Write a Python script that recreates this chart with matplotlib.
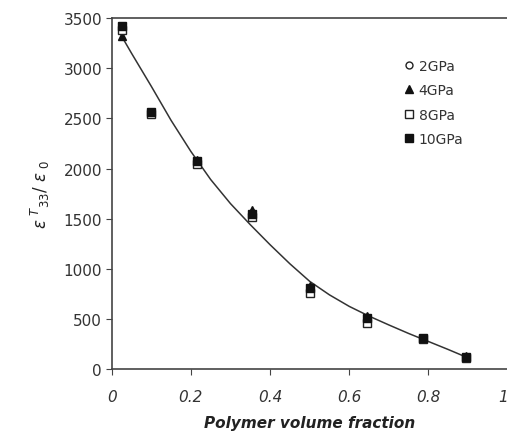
import matplotlib
matplotlib.use('Agg')
import matplotlib.pyplot as plt

# polymer volume fraction of the measured samples
frac = [0.025, 0.1, 0.215, 0.355, 0.5, 0.645, 0.785, 0.895]
eps_2gpa = [3400, 2560, 2070, 1560, 800, 500, 300, 120]
eps_4gpa = [3320, 2550, 2080, 1590, 830, 530, 310, 130]
eps_8gpa = [3380, 2540, 2050, 1520, 760, 460, 295, 110]
eps_10gpa = [3420, 2560, 2070, 1550, 810, 510, 305, 120]

# fitted curve
fit_x = [0.025, 0.05, 0.1, 0.15, 0.2, 0.25, 0.3, 0.35, 0.4, 0.45,
         0.5, 0.55, 0.6, 0.65, 0.7, 0.75, 0.8, 0.85, 0.895]
fit_y = [3320, 3150, 2820, 2480, 2170, 1890, 1650, 1440, 1240, 1050,
         875, 740, 625, 528, 440, 355, 275, 195, 120]

labels = ['2GPa', '4GPa', '8GPa', '10GPa']
xticks = [0, 0.2, 0.4, 0.6, 0.8, 1]
xticklabels = ['0', '0.2', '0.4', '0.6', '0.8', '1']
yticks = [0, 500, 1000, 1500, 2000, 2500, 3000, 3500]

fig = plt.figure(figsize=(5.07, 4.39), dpi=100)
ax = fig.add_axes([0.2203, 0.157, 0.781, 0.7995])

ax.plot(fit_x, fit_y, color='#333333', lw=1.1, zorder=1)
ax.plot(frac, eps_2gpa, 'o', ms=5, mfc='white', mec='#222222', mew=1, ls='none', label=labels[0])
ax.plot(frac, eps_4gpa, '^', ms=6, color='#111111', ls='none', label=labels[1])
ax.plot(frac, eps_8gpa, 's', ms=6, mfc='white', mec='#222222', mew=1, ls='none', label=labels[2])
ax.plot(frac, eps_10gpa, 's', ms=6, color='#111111', ls='none', label=labels[3])

ax.set_xlim(0, 1)
ax.set_ylim(0, 3500)
ax.set_xticks(xticks)
ax.set_xticklabels(xticklabels, fontstyle='italic', fontsize=11, color='#333333')
# the last label sits on the figure edge, keep it inside
ax.get_xticklabels()[-1].set_horizontalalignment('right')
ax.set_yticks(yticks)
ax.set_yticklabels([str(v) for v in yticks], fontsize=11, color='#333333')
ax.tick_params(direction='out', length=4, color='#444444', pad=10)
ax.tick_params(axis='y', pad=3)

for side in ['left', 'top', 'bottom']:
    ax.spines[side].set_color('#444444')
    ax.spines[side].set_linewidth(1.2)
ax.spines['right'].set_visible(False)

ax.set_xlabel('Polymer volume fraction', fontstyle='italic', fontweight='bold',
              fontsize=11, color='#222222', labelpad=8)
ax.set_ylabel(r'$\varepsilon^{\ T}{}_{33}/\ \varepsilon_{\ 0}$', fontsize=12,
              color='#222222', labelpad=8)

ax.legend(loc='upper right', bbox_to_anchor=(0.92, 0.92), frameon=False,
          fontsize=10, handlelength=0.6, handletextpad=0.4, labelspacing=0.75,
          labelcolor='#333333')

fig.savefig('out.png', dpi=100)
